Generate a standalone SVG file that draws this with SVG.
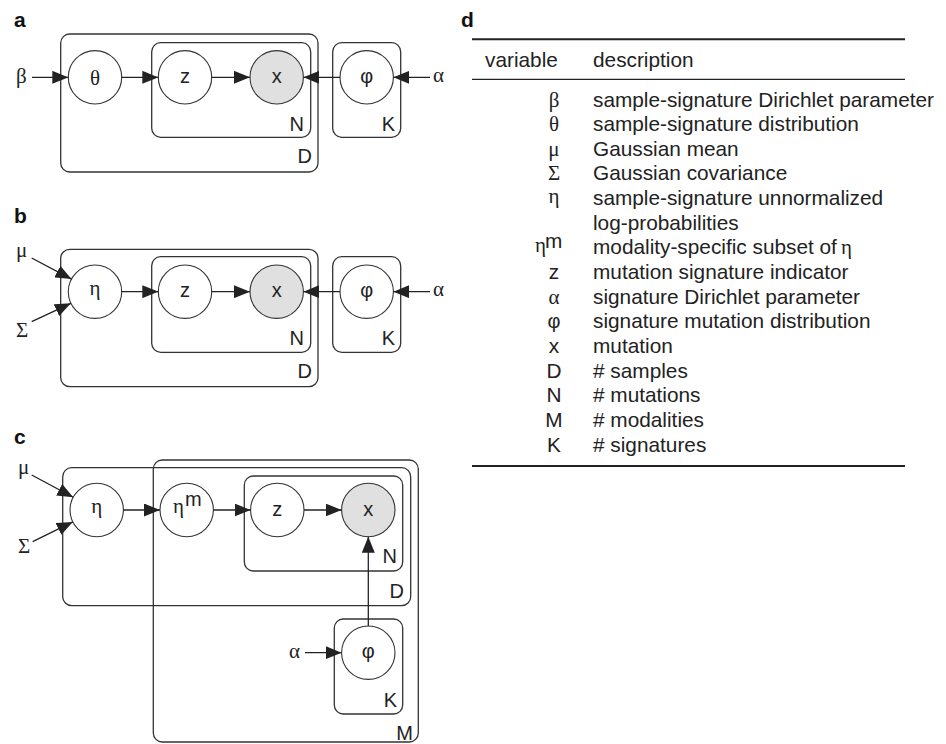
<svg xmlns="http://www.w3.org/2000/svg" width="946" height="744" viewBox="0 0 946 744">
<defs>
<style>
.plate{fill:none;stroke:#333;stroke-width:1.3}
.node{fill:#fff;stroke:#333;stroke-width:1.1}
.obs{fill:#e0e0e0;stroke:#333;stroke-width:1.1}
.edge{fill:none;stroke:#222;stroke-width:1.3}
.sans{font-family:"Liberation Sans",Arial,sans-serif;font-size:20px;fill:#222}
.gr{font-family:"Liberation Serif","Times New Roman",serif;font-size:21px;fill:#222}
.phi{font-family:"Liberation Sans",Arial,sans-serif;font-size:20px;fill:#222}
.lab{font-family:"Liberation Sans",Arial,sans-serif;font-size:21px;font-weight:bold;fill:#111}
.tb{font-family:"Liberation Sans",Arial,sans-serif;font-size:20.8px;fill:#222}
.tg{font-family:"Liberation Serif","Times New Roman",serif;font-size:21px;fill:#222}
.mid{text-anchor:middle}
.end{text-anchor:end}
</style>
<marker id="ah" viewBox="0 0 16 13" refX="16" refY="6.5" markerWidth="16" markerHeight="13" markerUnits="userSpaceOnUse" orient="auto">
<path d="M0,0 L16,6.5 L0,13 z" fill="#222"/>
</marker>
</defs>
<rect width="946" height="744" fill="#fff"/>

<!-- Panel a -->
<g id="panel-a">
<text class="lab" x="14" y="27">a</text>
<g id="a-plate-D"><rect class="plate" x="60.7" y="34" width="257.3" height="138" rx="9"/><text class="sans end" x="312" y="163">D</text></g>
<g id="a-plate-N"><rect class="plate" x="151.7" y="42.7" width="159" height="94.6" rx="9"/><text class="sans end" x="304" y="130.5">N</text></g>
<g id="a-plate-K"><rect class="plate" x="332.7" y="42.7" width="68" height="94.6" rx="9"/><text class="sans end" x="395" y="130.5">K</text></g>
<g id="a-beta"><text class="gr" x="16" y="82.5">β</text></g>
<g id="a-theta"><circle class="node" cx="95" cy="77.3" r="26.7"/><text class="gr mid" x="95" y="84.5">θ</text></g>
<g id="a-z"><circle class="node" cx="185" cy="77.3" r="26.7"/><text class="sans mid" x="185" y="83">z</text></g>
<g id="a-x"><circle class="obs" cx="276.7" cy="77.3" r="26.7"/><text class="sans mid" x="276.7" y="83">x</text></g>
<g id="a-phi"><circle class="node" cx="366.7" cy="77.3" r="26.7"/><text class="phi mid" x="366.7" y="83">φ</text></g>
<g id="a-alpha"><text class="gr" x="433" y="82">α</text></g>
<g id="a-edges">
<path class="edge" marker-end="url(#ah)" d="M32,77.3 H68.3"/>
<path class="edge" marker-end="url(#ah)" d="M121.7,77.3 H158.3"/>
<path class="edge" marker-end="url(#ah)" d="M211.7,77.3 H250"/>
<path class="edge" marker-end="url(#ah)" d="M340,77.3 H303.4"/>
<path class="edge" marker-end="url(#ah)" d="M430,77.3 H393.4"/>
</g>
</g>

<!-- Panel b -->
<g id="panel-b">
<text class="lab" x="14" y="223">b</text>
<g id="b-plate-D"><rect class="plate" x="60.7" y="249.3" width="257.3" height="137.4" rx="9"/><text class="sans end" x="312" y="377.8">D</text></g>
<g id="b-plate-N"><rect class="plate" x="151.7" y="256.7" width="159" height="95.6" rx="9"/><text class="sans end" x="304" y="345.2">N</text></g>
<g id="b-plate-K"><rect class="plate" x="332.7" y="256.7" width="68" height="95.6" rx="9"/><text class="sans end" x="395" y="345.2">K</text></g>
<g id="b-mu"><text class="gr" x="16" y="257">μ</text></g>
<g id="b-sigma"><text class="gr" x="16" y="336.5">Σ</text></g>
<g id="b-eta"><circle class="node" cx="95" cy="291.7" r="26.7"/><text class="gr mid" x="95" y="295">η</text></g>
<g id="b-z"><circle class="node" cx="185" cy="291.7" r="26.7"/><text class="sans mid" x="185" y="297.4">z</text></g>
<g id="b-x"><circle class="obs" cx="276.7" cy="291.7" r="26.7"/><text class="sans mid" x="276.7" y="297.4">x</text></g>
<g id="b-phi"><circle class="node" cx="366.7" cy="291.7" r="26.7"/><text class="phi mid" x="366.7" y="297.4">φ</text></g>
<g id="b-alpha"><text class="gr" x="433" y="296.2">α</text></g>
<g id="b-edges">
<path class="edge" marker-end="url(#ah)" d="M31.7,258 L71.5,279.1"/>
<path class="edge" marker-end="url(#ah)" d="M31.7,321.7 L70.9,303.3"/>
<path class="edge" marker-end="url(#ah)" d="M121.7,291.7 H158.3"/>
<path class="edge" marker-end="url(#ah)" d="M211.7,291.7 H250"/>
<path class="edge" marker-end="url(#ah)" d="M340,291.7 H303.4"/>
<path class="edge" marker-end="url(#ah)" d="M430,291.7 H393.4"/>
</g>
</g>

<!-- Panel c -->
<g id="panel-c">
<text class="lab" x="14" y="444">c</text>
<g id="c-plate-M"><rect class="plate" x="153.3" y="460" width="265" height="282" rx="9"/><text class="sans end" x="413" y="740">M</text></g>
<g id="c-plate-D"><rect class="plate" x="62.7" y="467.7" width="348" height="138" rx="9"/><text class="sans end" x="404" y="598.3">D</text></g>
<g id="c-plate-N"><rect class="plate" x="244.3" y="476" width="158.4" height="95" rx="9"/><text class="sans end" x="397" y="563.3">N</text></g>
<g id="c-plate-K"><rect class="plate" x="334.3" y="619" width="68.4" height="95" rx="9"/><text class="sans end" x="397" y="706.5">K</text></g>
<g id="c-mu"><text class="gr" x="18" y="474">μ</text></g>
<g id="c-sigma"><text class="gr" x="18" y="553.3">Σ</text></g>
<g id="c-eta"><circle class="node" cx="96.7" cy="510" r="26.7"/><text class="gr mid" x="96.7" y="513.3">η</text></g>
<g id="c-etam"><circle class="node" cx="186.7" cy="510" r="26.7"/><text class="gr" x="173" y="513.3">η<tspan class="sans" style="font-size:20px" x="185" y="506">m</tspan></text></g>
<g id="c-z"><circle class="node" cx="277.3" cy="510" r="26.7"/><text class="sans mid" x="277.3" y="515.7">z</text></g>
<g id="c-x"><circle class="obs" cx="368.3" cy="510" r="26.7"/><text class="sans mid" x="368.3" y="515.7">x</text></g>
<g id="c-phi"><circle class="node" cx="368.3" cy="652.7" r="26.7"/><text class="phi mid" x="368.3" y="658.4">φ</text></g>
<g id="c-alpha"><text class="gr" x="289" y="657.5">α</text></g>
<g id="c-edges">
<path class="edge" marker-end="url(#ah)" d="M31.7,475 L73.2,497.3"/>
<path class="edge" marker-end="url(#ah)" d="M32.7,541.7 L72.8,521.9"/>
<path class="edge" marker-end="url(#ah)" d="M123.4,510 H160"/>
<path class="edge" marker-end="url(#ah)" d="M213.4,510 H250.6"/>
<path class="edge" marker-end="url(#ah)" d="M304,510 H341.6"/>
<path class="edge" marker-end="url(#ah)" d="M368.3,626 V536.7"/>
<path class="edge" marker-end="url(#ah)" d="M305,652.7 H341.6"/>
</g>
</g>

<!-- Panel d: table -->
<g id="panel-d">
<text class="lab" x="461" y="26.7">d</text>
<line x1="472" y1="39.3" x2="905" y2="39.3" stroke="#222" stroke-width="2"/>
<text class="tb" x="485" y="66.5">variable</text>
<text class="tb" x="593" y="66.5">description</text>
<line x1="472" y1="79.3" x2="905" y2="79.3" stroke="#222" stroke-width="1.3"/>
<g class="tg mid">
<text x="554" y="106.5">β</text>
<text x="554" y="131.1">θ</text>
<text x="554" y="155.8">μ</text>
<text x="554" y="180.4">Σ</text>
<text x="554" y="203">η</text>
<text x="554" y="303.6">α</text>
</g>
<text class="phi mid" x="554" y="328.3">φ</text>
<text class="tg" x="535" y="252">η<tspan class="tb" x="545" y="248">m</tspan></text>
<g class="tb mid">
<text x="554" y="279">z</text>
<text x="554" y="352.9">x</text>
<text x="554" y="377.5">D</text>
<text x="554" y="402.2">N</text>
<text x="554" y="426.8">M</text>
<text x="554" y="451.5">K</text>
</g>
<g class="tb">
<text x="593" y="106.5">sample-signature Dirichlet parameter</text>
<text x="593" y="131.1">sample-signature distribution</text>
<text x="593" y="155.8">Gaussian mean</text>
<text x="593" y="180.4">Gaussian covariance</text>
<text x="593" y="205.1">sample-signature unnormalized</text>
<text x="593" y="229.7">log-probabilities</text>
<text x="593" y="254.3">modality-specific subset of<tspan class="tg" x="841" y="254.3">η</tspan></text>
<text x="593" y="279">mutation signature indicator</text>
<text x="593" y="303.6">signature Dirichlet parameter</text>
<text x="593" y="328.3">signature mutation distribution</text>
<text x="593" y="352.9">mutation</text>
<text x="593" y="377.5"># samples</text>
<text x="593" y="402.2"># mutations</text>
<text x="593" y="426.8"># modalities</text>
<text x="593" y="451.5"># signatures</text>
</g>
<line x1="472" y1="466" x2="905" y2="466" stroke="#222" stroke-width="2"/>
</g>
</svg>
